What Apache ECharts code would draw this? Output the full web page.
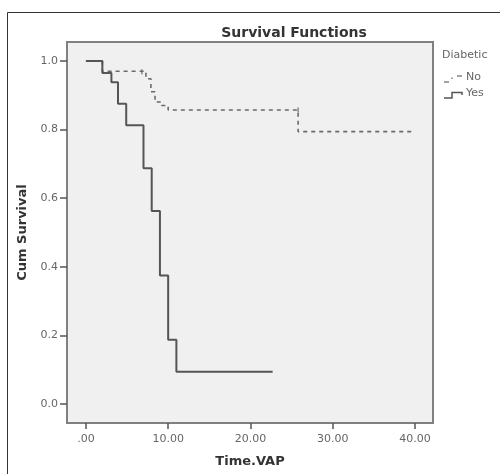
<!DOCTYPE html>
<html>
<head>
<meta charset="utf-8">
<script src="https://cdn.jsdelivr.net/npm/echarts@6/dist/echarts.min.js"></script>
<style>html,body{margin:0;padding:0;background:#fff}#c{width:500px;height:474px}</style>
</head>
<body>
<div id="c"></div>
<script>
// Data
var yesTimes = [0, 2.0, 3.1, 3.9, 4.9, 7.0, 8.0, 9.0, 10.0, 11.0, 22.7];
var yesSurv  = [1.0, 0.965, 0.9375, 0.875, 0.8125, 0.6875, 0.5625, 0.375, 0.1875, 0.094, 0.094];
var noTimes  = [0, 2.0, 7.3, 7.9, 8.4, 9.2, 10.0, 25.8, 39.6];
var noSurv   = [1.0, 0.97, 0.948, 0.91, 0.88, 0.87, 0.857, 0.794, 0.794];
var noCensorTimes = [6.8, 25.8];
var noCensorSurv  = [0.968, 0.857];
var xTicks = [0, 10, 20, 30, 40];
var yTicks = [0, 0.2, 0.4, 0.6, 0.8, 1.0];
var groupNames = ['No', 'Yes'];

function pairs(t, s) { return t.map(function (v, i) { return [v, s[i]]; }); }

var chart = echarts.init(document.getElementById('c'), null, {renderer: 'canvas'});
var font = 'DejaVu Sans, Verdana, sans-serif';
chart.setOption({
  animation: false,
  backgroundColor: '#ffffff',
  title: {
    text: 'Survival Functions', left: 289, top: 21, textAlign: 'center',
    textStyle: {fontFamily: font, fontSize: 14, fontWeight: 'bold', color: '#333'}
  },
  grid: {left: 67, right: 67, top: 42, bottom: 51, show: true,
         backgroundColor: '#f0f0f0', borderColor: '#808080', borderWidth: 2},
  xAxis: {
    type: 'value', min: -2.3, max: 42.2,
    name: 'Time.VAP', nameLocation: 'middle', nameGap: 32,
    nameTextStyle: {fontFamily: font, fontSize: 13, fontWeight: 'bold', color: '#333'},
    axisLine: {show: false, onZero: false},
    splitLine: {show: false},
    axisTick: {show: true, length: 6, customValues: xTicks, lineStyle: {color: '#555', width: 1.5}},
    axisLabel: {customValues: xTicks, margin: 11, fontFamily: font, fontSize: 11, color: '#666',
      formatter: function (v) { return v === 0 ? '.00' : v.toFixed(2); }}
  },
  yAxis: {
    type: 'value', min: -0.055, max: 1.055,
    name: 'Cum Survival', nameLocation: 'middle', nameGap: 35, nameRotate: 90,
    nameTextStyle: {fontFamily: font, fontSize: 13, fontWeight: 'bold', color: '#333'},
    axisLine: {show: false, onZero: false},
    splitLine: {show: false},
    axisTick: {show: true, length: 7, customValues: yTicks, lineStyle: {color: '#555', width: 1.5}},
    axisLabel: {customValues: yTicks, margin: 9, fontFamily: font, fontSize: 11, color: '#666',
      formatter: function (v) { return v.toFixed(1); }}
  },
  series: [
    {
      name: groupNames[0], type: 'line', step: 'end', symbol: 'none',
      data: pairs(noTimes, noSurv),
      lineStyle: {color: '#6a6a6a', width: 1.6, type: [4, 4]}, z: 3
    },
    {
      name: groupNames[0] + ' censored', type: 'scatter', symbol: 'rect', symbolSize: [1.5, 5],
      data: pairs(noCensorTimes, noCensorSurv),
      itemStyle: {color: '#6a6a6a'}, z: 3
    },
    {
      name: groupNames[1], type: 'line', step: 'end', symbol: 'none',
      data: pairs(yesTimes, yesSurv),
      lineStyle: {color: '#555555', width: 2}, z: 4
    }
  ],
  graphic: [
    {type: 'rect', shape: {x: 7.5, y: 12.5, width: 520, height: 520}, silent: true,
     style: {fill: null, stroke: '#333', lineWidth: 1}},
    {type: 'text', left: 442, top: 50, style: {text: 'Diabetic', fontFamily: font, fontSize: 11, fill: '#666'}},
    {type: 'polyline', shape: {points: [[444, 82], [449, 82]]}, style: {stroke: '#666', lineWidth: 1.2, fill: null}},
    {type: 'polyline', shape: {points: [[452, 79], [452, 77.5]]}, style: {stroke: '#666', lineWidth: 1.2, fill: null}},
    {type: 'polyline', shape: {points: [[457, 76], [462, 76]]}, style: {stroke: '#666', lineWidth: 1.2, fill: null}},
    {type: 'text', left: 466, top: 72, style: {text: groupNames[0], fontFamily: font, fontSize: 11, fill: '#666'}},
    {type: 'polyline', shape: {points: [[444, 98], [452, 98], [452, 92.5], [462, 92.5], [462, 95]]},
     style: {stroke: '#555', lineWidth: 1.5, fill: null}},
    {type: 'text', left: 466, top: 88, style: {text: groupNames[1], fontFamily: font, fontSize: 11, fill: '#666'}}
  ]
});
</script>
</body>
</html>
